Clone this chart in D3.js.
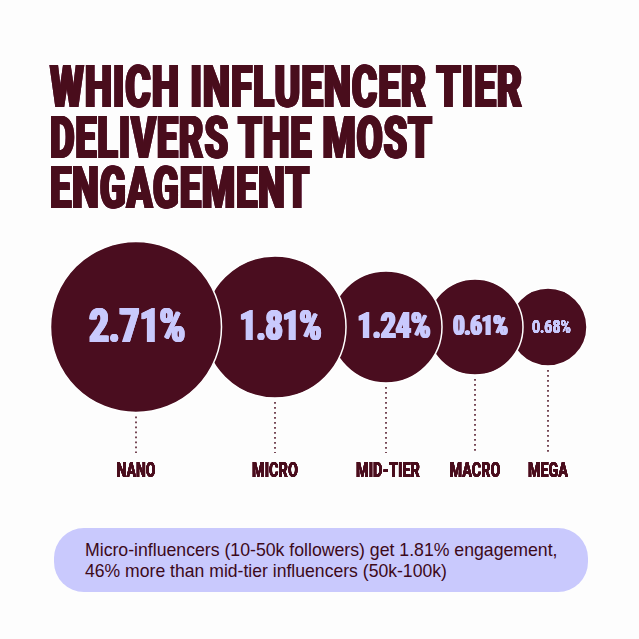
<!DOCTYPE html>
<html>
<head>
<meta charset="utf-8">
<script src="https://cdn.jsdelivr.net/npm/d3@7/dist/d3.min.js"></script>
<style>
html, body { margin: 0; padding: 0; background: #ffffff; }
svg { display: block; }
</style>
</head>
<body>
<div id="data"></div>
<script>
// Chart data
var titleLines = ["WHICH INFLUENCER TIER", "DELIVERS THE MOST", "ENGAGEMENT"];
var tiers = ["NANO", "MICRO", "MID-TIER", "MACRO", "MEGA"];
var engagement = [2.71, 1.81, 1.24, 0.61, 0.68];
var noteLines = [
    "Micro-influencers (10-50k followers) get 1.81% engagement,",
    "46% more than mid-tier influencers (50k-100k)"
];

var width = 639;
var height = 639;
var dark = "#4a0d1f";
var lilac = "#c9c9fd";
var heavyFont = "Roboto, 'Liberation Sans', sans-serif";

var svg = d3.select('#data')
    .append("svg")
    .attr("width", width)
    .attr("height", height);

svg.append("rect")
    .attr("width", width)
    .attr("height", height)
    .attr("fill", "#fdfdfd");

// no condensed heavy face is installed, so thicken the upright stems with a filter
var defs = svg.append("defs");
function addThicken(id, dx) {
    var filter = defs.append("filter").attr("id", id);
    [-dx, -dx / 2, dx / 2, dx].forEach(function (o, i) {
        filter.append("feOffset")
            .attr("in", "SourceGraphic")
            .attr("dx", o)
            .attr("result", "o" + i);
    });
    var merge = filter.append("feMerge");
    ["o0", "o1", "o2", "o3", "SourceGraphic"].forEach(function (n) {
        merge.append("feMergeNode").attr("in", n);
    });
}
addThicken("thickTitle", 1.3);
addThicken("thickBig", 1);
addThicken("thickMid", 0.7);
addThicken("thickSmall", 0.35);

// The circles in the picture are not sized strictly by value, so the tier
// scales carry the measured layout
var xScale = d3.scaleOrdinal().domain(tiers).range([136, 275, 386, 475, 548]);
var rScale = d3.scaleOrdinal().domain(tiers).range([85.5, 71, 56, 48, 39]);
var valueX = d3.scaleOrdinal().domain(tiers).range([137, 280.5, 394, 480.5, 551.5]);
var valueSize = d3.scaleOrdinal().domain(tiers).range([49, 43, 36.5, 27, 19]);
var valueWidth = d3.scaleOrdinal().domain(tiers).range([96, 82, 73, 54.5, 39]);
var valueFilter = d3.scaleOrdinal().domain(tiers).range(["thickBig", "thickBig", "thickMid", "thickMid", "thickSmall"]);
var labelX = d3.scaleOrdinal().domain(tiers).range([136, 275, 388, 475, 548]);
var labelWidth = d3.scaleOrdinal().domain(tiers).range([39, 46, 64, 51, 40]);

var prepared = tiers.map(function (d, i) {
    return { tier: d, value: engagement[i] };
});

var centerY = 327;
var lineEnd = 453;

// squeeze a text to a wanted width, around its own anchor
function fitText(selection, xFn, yFn, widthFn) {
    selection.each(function (d, i) {
        var k = widthFn(d, i) / this.getComputedTextLength();
        d3.select(this)
            .attr("transform", "translate(" + xFn(d, i) + "," + yFn(d, i) + ") scale(" + k + ",1)");
    });
}

// title
var titleWidth = d3.scaleOrdinal().domain(titleLines).range([473, 383, 260]);
svg.append("g")
    .classed("title", true)
    .attr("filter", "url(#thickTitle)")
    .selectAll("text")
    .data(titleLines)
    .enter()
    .append("text")
    .text(function (d) { return d; })
    .style("font-family", heavyFont)
    .style("font-weight", 900)
    .style("font-size", "59px")
    .style("letter-spacing", "0.02em")
    .style("fill", dark)
    .call(fitText,
        function () { return 50; },
        function (d, i) { return 107 + i * 50.5; },
        function (d) { return titleWidth(d); });

// dotted leaders
svg.append("g")
    .classed("leaders", true)
    .selectAll("line")
    .data(prepared)
    .enter()
    .append("line")
    .attr("x1", function (d) { return xScale(d.tier); })
    .attr("x2", function (d) { return xScale(d.tier); })
    .attr("y1", function (d) { return centerY + rScale(d.tier) + 4; })
    .attr("y2", lineEnd)
    .style("stroke", dark)
    .style("stroke-width", 1.5)
    .style("stroke-dasharray", "1.8 3.2");

// bubbles, last tier first so the bigger ones sit on top
var bubbles = svg.append("g")
    .classed("bubbles", true)
    .selectAll("g")
    .data(prepared.slice().reverse())
    .enter()
    .append("g")
    .classed("bubble", true);

bubbles.append("circle")
    .attr("cx", function (d) { return xScale(d.tier); })
    .attr("cy", centerY)
    .attr("r", function (d) { return rScale(d.tier); })
    .style("fill", dark)
    .style("stroke", "#ffffff")
    .style("stroke-width", 1.5);

bubbles.append("g")
    .attr("filter", function (d) { return "url(#" + valueFilter(d.tier) + ")"; })
    .append("text")
    .text(function (d) { return d3.format(".2f")(d.value) + "%"; })
    .attr("text-anchor", "middle")
    .style("font-family", heavyFont)
    .style("font-weight", 900)
    .style("font-size", function (d) { return valueSize(d.tier) + "px"; })
    .style("fill", lilac)
    .call(fitText,
        function (d) { return valueX(d.tier); },
        function (d) { return centerY + valueSize(d.tier) * 0.31; },
        function (d) { return valueWidth(d.tier); });

// tier labels
svg.append("g")
    .classed("labels", true)
    .attr("filter", "url(#thickSmall)")
    .selectAll("text")
    .data(prepared)
    .enter()
    .append("text")
    .text(function (d) { return d.tier; })
    .attr("text-anchor", "middle")
    .style("font-family", heavyFont)
    .style("font-weight", 900)
    .style("font-size", "19.5px")
    .style("fill", dark)
    .call(fitText,
        function (d) { return labelX(d.tier); },
        function () { return 477; },
        function (d) { return labelWidth(d.tier); });

// note pill
var noteWidth = d3.scaleOrdinal().domain(noteLines).range([473, 362]);
var note = svg.append("g").classed("note", true);
note.append("rect")
    .attr("x", 54)
    .attr("y", 528)
    .attr("width", 534)
    .attr("height", 64)
    .attr("rx", 30)
    .style("fill", lilac);
note.selectAll("text")
    .data(noteLines)
    .enter()
    .append("text")
    .text(function (d) { return d; })
    .style("font-family", "'Liberation Sans', sans-serif")
    .style("font-size", "17.5px")
    .style("fill", "#3d0a1a")
    .call(fitText,
        function () { return 85; },
        function (d, i) { return 556 + i * 21; },
        function (d) { return noteWidth(d); });
</script>
</body>
</html>
